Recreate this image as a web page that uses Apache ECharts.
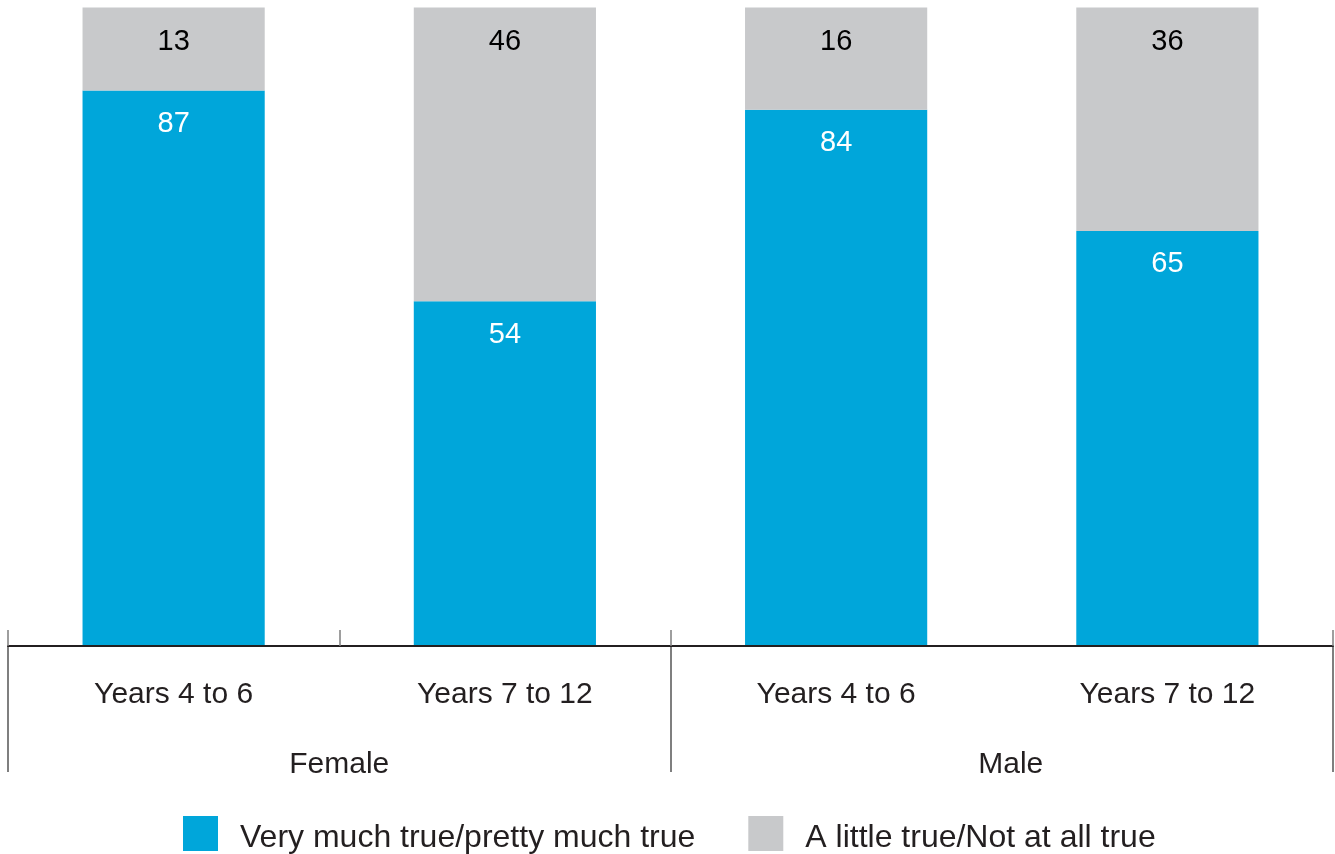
<!DOCTYPE html>
<html>
<head>
<meta charset="utf-8">
<script src="https://cdn.jsdelivr.net/npm/echarts@6/dist/echarts.min.js"></script>
<style>
  html, body { margin:0; padding:0; background:#fff; }
  #chart { width:1335px; height:854px; }
</style>
</head>
<body>
<div id="chart"></div>
<script type="text/javascript">
var categories = ['Years 4 to 6', 'Years 7 to 12', 'Years 4 to 6', 'Years 7 to 12'];
var groups = ['Female', 'Male'];
var seriesNames = ['Very much true/pretty much true', 'A little true/Not at all true'];
var trueValues = [87, 54, 84, 65];
var notTrueValues = [13, 46, 16, 36];

var fontName = 'Liberation Sans, Arial, sans-serif';
var myChart = echarts.init(document.getElementById('chart'));
var option = {
  animation: false,
  textStyle: { fontFamily: fontName },
  grid: { left: 8, right: 2, top: 7.5, bottom: 208, containLabel: false },
  legend: {
    left: 178,
    top: 811,
    itemWidth: 35,
    itemHeight: 35,
    itemGap: 53,
    icon: 'rect',
    data: seriesNames,
    formatter: function (name) { return '{t|' + name + '}'; },
    textStyle: {
      fontSize: 32, color: '#231f20', padding: [0, 0, 0, 17], fontFamily: fontName,
      rich: { t: { fontSize: 32, color: '#231f20', fontFamily: fontName, padding: [9, 0, 0, 0] } }
    }
  },
  xAxis: [{
    type: 'category',
    data: categories,
    position: 'bottom',
    z: 3,
    axisLine: { show: true, lineStyle: { color: '#231f20', width: 2 } },
    axisTick: {
      show: true,
      inside: true,
      length: 16,
      interval: function (i) { return i !== 3; },
      lineStyle: { color: '#7f7f7f', width: 1.5 }
    },
    axisLabel: { margin: 34, fontSize: 30, color: '#231f20', interval: 0, fontFamily: fontName }
  }, {
    type: 'category',
    data: groups.map(function (g, i) {
      return i === 1 ? { value: g, textStyle: { padding: [0, 0, 0, 18] } } : g;
    }),
    position: 'bottom',
    axisLine: { show: false },
    axisTick: { show: true, length: 126, lineStyle: { color: '#7f7f7f', width: 2 } },
    axisLabel: { margin: 104, fontSize: 30, color: '#231f20', fontFamily: fontName }
  }],
  yAxis: { type: 'value', min: 0, max: 100, show: false, splitLine: { show: false } },
  series: [{
    name: seriesNames[0],
    type: 'bar',
    stack: 'total',
    barWidth: '55%',
    data: trueValues,
    itemStyle: { color: '#00a6da' },
    label: { show: true, position: 'insideTop', distance: 19, fontSize: 29, color: '#ffffff', fontFamily: fontName }
  }, {
    name: seriesNames[1],
    type: 'bar',
    stack: 'total',
    barWidth: '55%',
    data: notTrueValues,
    itemStyle: { color: '#c8c9cb' },
    label: { show: true, position: 'insideTop', distance: 20, fontSize: 29, color: '#000000', fontFamily: fontName }
  }]
};
myChart.setOption(option);
</script>
</body>
</html>
